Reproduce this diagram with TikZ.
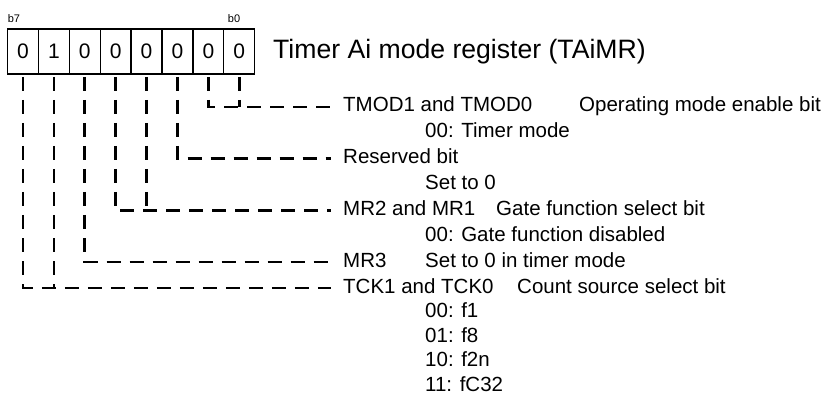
\documentclass[tikz,border=0pt]{standalone}
\usepackage{fontspec}
\setmainfont{Liberation Sans}
\begin{document}
\begin{tikzpicture}[x=1pt,y=-1pt,
  cell/.style={draw,line width=1.3pt,minimum width=30.9pt,minimum height=45pt,inner sep=0pt,outer sep=0pt,anchor=north west,font=\fontsize{21}{25}\selectfont},
  lead/.style={line width=2.6pt,dash pattern=on 14pt off 9pt,dash phase=20pt},
  hdr/.style={anchor=west,inner xsep=12pt,inner ysep=0pt,text height=14pt,text depth=4pt,font=\fontsize{20.5}{24}\selectfont},
  sub/.style={anchor=west,inner sep=0pt,text height=14pt,text depth=4pt,font=\fontsize{20.5}{24}\selectfont},
  bitlbl/.style={font=\fontsize{11}{13}\selectfont,inner sep=0pt,anchor=south}
]
\path[use as bounding box,fill=white] (0,0) rectangle (826,403);
% register cells
\foreach \i/\v [count=\k from 0] in {7/0,6/1,5/0,4/0,3/0,2/0,1/0,0/0}
  \node[cell] (c\i) at ({7.5+30.9*\k},29) {\v};
\node[bitlbl] (b7) at (14,23) {b7};
\node[bitlbl] (b0) at (234,23) {b0};
\node[anchor=west,inner sep=0pt,font=\fontsize{26.6}{32}\selectfont] (title) at (273,52) {Timer Ai mode register (TAiMR)};
% text rows
\def\rowy#1{107+25.86*#1}
\def\opty#1{288+24.6*#1}
\node[hdr] (h0) at (331,{\rowy{0}}) {TMOD1 and TMOD0};
\node[sub,anchor=east] (d0) at (821,{\rowy{0}}) {Operating mode enable bit};
\node[sub] (s1) at (425,{\rowy{1}}) {00: Timer mode};
\node[hdr] (h2) at (331,{\rowy{2}}) {Reserved bit};
\node[sub] (s3) at (425,{\rowy{3}}) {Set to 0};
\node[hdr] (h4) at (331,{\rowy{4}}) {MR2 and MR1};
\node[sub] (d4) at (496,{\rowy{4}}) {Gate function select bit};
\node[sub] (s5) at (425,{\rowy{5}}) {00: Gate function disabled};
\node[hdr] (h6) at (331,{\rowy{6}}) {MR3};
\node[sub] (d6) at (425,{\rowy{6}}) {Set to 0 in timer mode};
\node[hdr] (h7) at (331,{\rowy{7}}) {TCK1 and TCK0};
\node[sub] (d7) at (517,{\rowy{7}}) {Count source select bit};
\node[sub] (s8) at (425,{\opty{1}}) {00: f1};
\node[sub] (s9) at (425,{\opty{2}}) {01: f8};
\node[sub] (s10) at (425,{\opty{3}}) {10: f2n};
\node[sub] (s11) at (425,{\opty{4}}) {11: fC32};
% leaders
\draw[lead] (c1.south) |- (h0.west);
\draw[lead] (c0.south) -- (c0.south |- h0.west);
\draw[lead] (c2.south) |- (h2.west);
\draw[lead] (c4.south) |- (h4.west);
\draw[lead] (c3.south) -- (c3.south |- h4.west);
\draw[lead] (c5.south) |- (h6.west);
\draw[lead] (c7.south) |- (h7.west);
\draw[lead] (c6.south) -- (c6.south |- h7.west);
\end{tikzpicture}
\end{document}
